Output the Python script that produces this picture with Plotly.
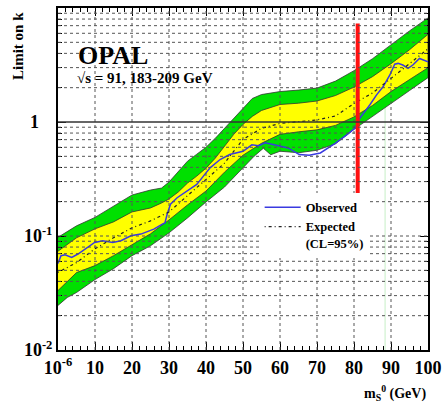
import plotly.graph_objects as go

# ---------------- data ----------------
# mass of scalar S0 in GeV (0 is labelled 10^-6)
x_g_up = [0, 5, 10, 15, 20, 25, 28, 30, 32.5, 35, 37.5, 40, 42.5, 45, 47.5, 50, 52.5, 55, 60, 65, 70, 75, 80, 85, 90, 95, 100]
g_up = [0.0974, 0.1227, 0.1456, 0.1834, 0.2288, 0.2530, 0.2634, 0.2972, 0.3707, 0.4531, 0.5216, 0.6004, 0.7191, 0.8794,
        1.097, 1.341, 1.607, 1.741, 1.849, 1.906, 1.984, 2.284, 2.820, 3.589, 4.755, 6.300, 8.180]

x_y_up = [0, 5, 10, 15, 20, 25, 28, 30, 32.5, 35, 37.5, 40, 42.5, 45, 47.5, 50, 52.5, 55, 60, 65, 70, 75, 80, 85, 90, 95, 100]
y_up = [0.0735, 0.0964, 0.1155, 0.1330, 0.1626, 0.1762, 0.1949, 0.2112, 0.2430, 0.2912, 0.3352, 0.3937, 0.4814, 0.6125,
        0.7793, 0.9530, 1.119, 1.262, 1.424, 1.462, 1.528, 1.707, 2.025, 2.500, 3.246, 4.300, 5.873]

x_exp = [0, 5, 10, 15, 20, 25, 30, 35, 40, 45, 50, 55, 60, 65, 70, 75, 80, 85, 90, 95, 100]
expected = [0.0480, 0.0584, 0.0773, 0.0964, 0.1179, 0.1357, 0.1626, 0.2256, 0.3093, 0.4352, 0.7049, 0.8794, 0.9723,
            1.012, 1.043, 1.130, 1.453, 1.795, 2.402, 3.246, 4.387]

x_y_lo = [0, 2.5, 5, 10, 15, 20, 25, 30, 35, 40, 45, 50, 55, 60, 65, 70, 75, 80, 85, 90, 95, 100]
y_lo = [0.03325, 0.03985, 0.04775, 0.0550, 0.0672, 0.0838, 0.1045, 0.1384, 0.1872, 0.2480, 0.3633, 0.5111, 0.6505,
        0.7793, 0.8197, 0.8533, 0.9340, 1.108, 1.396, 1.849, 2.353, 2.995]

x_g_lo = [0, 2.5, 5, 10, 15, 20, 25, 30, 35, 40, 45, 50, 53, 55.5, 57.5, 60, 65, 70, 75, 80, 85, 90, 95, 100]
g_lo = [0.02460, 0.02889, 0.03194, 0.04148, 0.05173, 0.0672, 0.0821, 0.1066, 0.1441, 0.1988, 0.2688, 0.3937, 0.5010,
        0.5885, 0.5163, 0.5540, 0.5375, 0.5652, 0.6439, 0.8617, 1.119, 1.453, 1.887, 2.450]

x_obs = [0, 0.8, 1.9, 3.7, 5.4, 8.1, 9.9, 12.1, 14.8, 17, 19.7, 22.4, 25.9, 28.2, 28.9, 29.5, 30.4, 32.2, 34.8, 37.5,
         39.3, 41.1, 43.8, 46.4, 50, 52.4, 54.2, 56, 57.8, 62.2, 65.2, 67.9, 70.9, 74.9, 78.1, 80.3, 81.6, 83.0, 84.3,
         86.1, 87.9, 89.7, 91.0, 91.9, 93.2, 94.6, 95.9, 97.7, 99, 100]
observed = [0.0575, 0.0672, 0.0685, 0.0649, 0.0695, 0.0794, 0.0878, 0.0908, 0.0878, 0.0908, 0.1004, 0.1039, 0.1149,
            0.1270, 0.1304, 0.1553, 0.1898, 0.2167, 0.2480, 0.2837, 0.3352, 0.3961, 0.4688, 0.5184, 0.5540, 0.6313,
            0.6187, 0.6572, 0.6376, 0.5920, 0.5184, 0.5111, 0.5353, 0.6505, 0.7746, 0.8846, 1.081, 1.237, 1.416,
            1.731, 2.045, 2.586, 3.214, 3.266, 3.162, 2.953, 3.162, 3.611, 3.497, 3.380]

red_x = [81, 81]
red_k = [0.211, 7.3]
green_x = [88.4, 88.4]
green_k = [0.01, 1.4]

x_tick_vals = [0, 10, 20, 30, 40, 50, 60, 70, 80, 90, 100]
x_tick_text = ["10<sup>-6</sup>", "10", "20", "30", "40", "50", "60", "70", "80", "90", "100"]
y_tick_vals = [0.01, 0.1, 1]
y_tick_text = ["10<sup>-2</sup>", "10<sup>-1</sup>", "1&#160;&#160;&#160;"]
y_minor_vals = [m * d for d in (0.01, 0.1, 1) for m in range(2, 10)]
x_grid_vals = [10, 20, 30, 40, 50, 60, 70, 80, 90]

FONT = "Liberation Serif"

fig = go.Figure()

# thin green vertical line (drawn first, covered by bands)
fig.add_trace(go.Scatter(x=green_x, y=green_k, mode="lines", line=dict(color="#c6efc6", width=1),
                         showlegend=False, hoverinfo="skip"))

# 2 sigma band
fig.add_trace(go.Scatter(x=x_g_up + x_g_lo[::-1], y=g_up + g_lo[::-1], fill="toself", mode="lines",
                         fillcolor="#00e000", line=dict(color="#333333", width=0.8),
                         showlegend=False, hoverinfo="skip"))
# 1 sigma band
fig.add_trace(go.Scatter(x=x_y_up + x_y_lo[::-1], y=y_up + y_lo[::-1], fill="toself", mode="lines",
                         fillcolor="#ffff00", line=dict(color="#333333", width=0.8),
                         showlegend=False, hoverinfo="skip"))

fig.add_trace(go.Scatter(x=x_obs, y=observed, mode="lines", name="<b>Observed</b>",
                         line=dict(color="#3a3ae0", width=1.5)))
fig.add_trace(go.Scatter(x=x_exp, y=expected, mode="lines", name="<b>Expected</b><br><b>(CL=95%)</b>",
                         line=dict(color="#222222", width=1.2, dash="1px,3px,3px,3px")))

fig.add_trace(go.Scatter(x=red_x, y=red_k, mode="lines", line=dict(color="#ff1010", width=4),
                         showlegend=False, hoverinfo="skip"))

shapes = []
for gx in x_grid_vals:
    shapes.append(dict(type="line", xref="x", yref="paper", x0=gx, x1=gx, y0=0, y1=1,
                       line=dict(color="#555555", width=1, dash="dot"), layer="above"))
for gy in y_minor_vals + [0.1]:
    shapes.append(dict(type="line", xref="paper", yref="y", x0=0, x1=1, y0=gy, y1=gy,
                       line=dict(color="#555555", width=1, dash="dot"), layer="above"))
shapes.append(dict(type="line", xref="paper", yref="y", x0=0, x1=1, y0=1, y1=1,
                   line=dict(color="#333333", width=1.5), layer="above"))

fig.update_layout(
    width=448, height=406,
    margin=dict(l=58, r=16, t=6, b=56),
    paper_bgcolor="white", plot_bgcolor="white",
    font=dict(family=FONT, color="black"),
    shapes=shapes,
    showlegend=True,
    legend=dict(x=0.545, y=0.46, xanchor="left", yanchor="top", bgcolor="white",
                font=dict(family=FONT, size=12.5, color="black"), valign="top",
                tracegroupgap=0, itemwidth=36),
    xaxis=dict(range=[0, 100], tickvals=x_tick_vals, ticktext=x_tick_text, ticks="inside", ticklen=8,
               tickcolor="black", showgrid=False, zeroline=False, showline=True, linecolor="black",
               linewidth=2, mirror="allticks",
               tickfont=dict(family=FONT, size=18, color="black", weight="bold"),
               minor=dict(dtick=2, ticks="inside", ticklen=4, tickcolor="black")),
    yaxis=dict(type="log", range=[-2, 1], tickvals=y_tick_vals, ticktext=y_tick_text, ticks="inside",
               ticklen=8, tickcolor="black", showgrid=False, zeroline=False, showline=True,
               linecolor="black", linewidth=2, mirror="allticks",
               tickfont=dict(family=FONT, size=18, color="black", weight="bold"),
               minor=dict(tickvals=y_minor_vals, ticks="inside", ticklen=4, tickcolor="black")),
    annotations=[
        dict(text="<b>OPAL</b>", xref="paper", yref="paper", x=0.048, y=0.862, xanchor="left",
             yanchor="middle", showarrow=False, font=dict(family=FONT, size=26, color="black")),
        dict(text="<b>\u221as = 91, 183-209 GeV</b>", xref="paper", yref="paper", x=0.045, y=0.795,
             xanchor="left", yanchor="middle", showarrow=False, font=dict(family=FONT, size=15, color="black")),
        dict(text="<b>Limit on k</b>", xref="paper", yref="paper", x=-0.11, y=0.995, xanchor="center",
             yanchor="top", textangle=-90, showarrow=False, font=dict(family=FONT, size=15, color="black")),
        dict(text="<b>m<sub>S</sub><sup>0</sup> (GeV)</b>", xref="paper", yref="paper", x=1.0, y=-0.125,
             xanchor="right", yanchor="middle", showarrow=False, font=dict(family=FONT, size=14, color="black")),
    ],
)

fig.write_html("out.html", post_script="document.body.style.margin='0px';",
               config={"displayModeBar": False})
